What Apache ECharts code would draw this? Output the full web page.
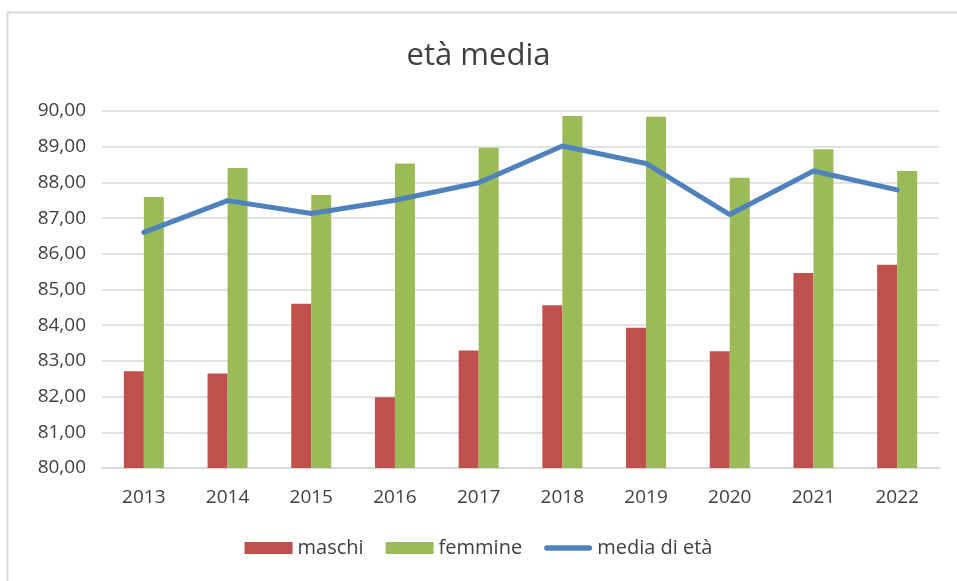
<!DOCTYPE html>
<html>
<head>
<meta charset="utf-8">
<title>età media</title>
<script src="https://cdn.jsdelivr.net/npm/echarts@6/dist/echarts.min.js"></script>
<style>
  html, body { margin: 0; padding: 0; background: #fff; }
  #chart { width: 957px; height: 581px; }
</style>
</head>
<body>
<div id="chart"></div>
<script>
// dati
const anni = ['2013', '2014', '2015', '2016', '2017', '2018', '2019', '2020', '2021', '2022'];
const maschi = [82.71, 82.65, 84.60, 81.98, 83.29, 84.56, 83.93, 83.27, 85.46, 85.69];
const femmine = [87.59, 88.40, 87.65, 88.53, 88.97, 89.86, 89.84, 88.13, 88.93, 88.32];
const mediaEta = [86.60, 87.49, 87.13, 87.50, 87.99, 89.02, 88.53, 87.10, 88.32, 87.79];

const font = 'Open Sans';
let myChart = echarts.init(document.getElementById('chart'));

let option = {
  animation: false,
  textStyle: { fontFamily: font },
  title: {
    text: 'età media',
    left: 'center',
    top: 36,
    textStyle: { fontFamily: font, fontSize: 31, fontWeight: 'normal', color: '#404040' }
  },
  graphic: [{
    type: 'rect',
    shape: { x: 7.5, y: 12.5, width: 1000, height: 700 },
    style: { fill: 'none', stroke: '#D9D9D9', lineWidth: 2 },
    silent: true
  }],
  legend: {
    bottom: 18,
    left: 'center',
    itemWidth: 48,
    itemHeight: 12,
    itemGap: 22,
    textStyle: { fontFamily: font, fontSize: 20, color: '#404040' },
    data: [
      { name: 'maschi', icon: 'rect' },
      { name: 'femmine', icon: 'rect' },
      { name: 'media di età', icon: 'path://M3,0 L51,0 A3,3 0 0 1 51,6 L3,6 A3,3 0 0 1 3,0 Z' }
    ]
  },
  grid: { left: 102, right: 18, top: 111, bottom: 113 },
  xAxis: {
    type: 'category',
    data: anni,
    axisLine: { lineStyle: { color: '#D9D9D9', width: 2 } },
    axisTick: { show: false },
    axisLabel: { fontSize: 19, color: '#404040', margin: 20, fontFamily: font }
  },
  yAxis: {
    type: 'value',
    min: 80,
    max: 90,
    interval: 1,
    axisLine: { show: false },
    axisTick: { show: false },
    splitLine: { lineStyle: { color: '#D9D9D9', width: 1.5 } },
    axisLabel: {
      fontSize: 19,
      color: '#404040',
      margin: 16,
      fontFamily: font,
      formatter: v => v.toFixed(2).replace('.', ',')
    }
  },
  series: [
    {
      name: 'maschi',
      type: 'bar',
      data: maschi,
      barWidth: 20,
      barGap: '0%',
      itemStyle: { color: '#C0504D' }
    },
    {
      name: 'femmine',
      type: 'bar',
      data: femmine,
      barWidth: 20,
      itemStyle: { color: '#9BBB59' }
    },
    {
      name: 'media di età',
      type: 'line',
      data: mediaEta,
      symbol: 'none',
      z: 5,
      lineStyle: { color: '#4F81BD', width: 5, cap: 'round' },
      itemStyle: { color: '#4F81BD' }
    }
  ]
};
myChart.setOption(option);
</script>
</body>
</html>
